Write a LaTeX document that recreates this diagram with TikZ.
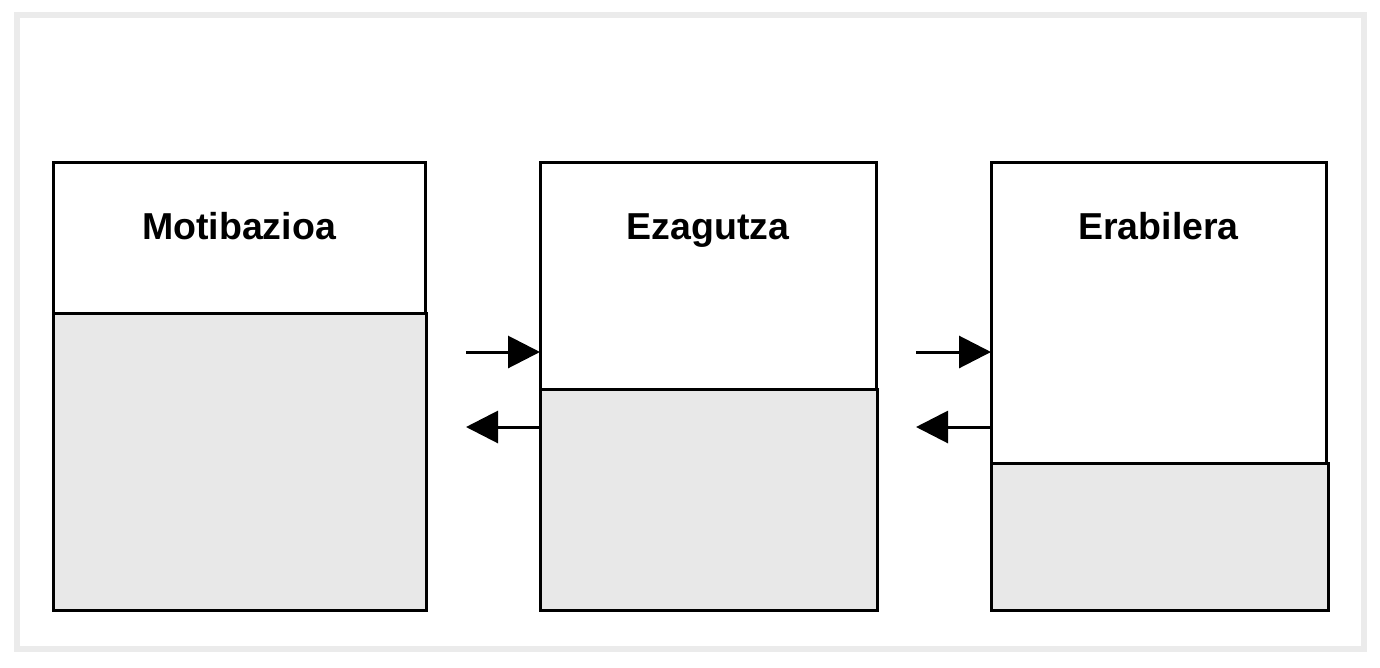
\documentclass[tikz,border=0pt]{standalone}
\usepackage{fontspec}
\setmainfont{Liberation Sans}
\usetikzlibrary{arrows.meta}
\definecolor{framegray}{HTML}{EBEBEB}
\definecolor{fillgray}{HTML}{E8E8E8}
\begin{document}
\begin{tikzpicture}[x=1pt,y=-1pt,
  box/.style={draw=black, line width=3pt, fill=white, rectangle, inner sep=0pt, outer sep=0pt, anchor=north west},
  graybox/.style={draw=black, line width=3pt, fill=fillgray, rectangle, inner sep=0pt, outer sep=0pt, anchor=south west},
  lbl/.style={font=\fontsize{37.5}{42}\selectfont\bfseries, anchor=base, inner sep=0pt},
  arr/.style={line width=3pt, -{Triangle[length=32pt,width=32pt]}}]
\useasboundingbox (0,0) rectangle (1380,667);
\draw[framegray, line width=6pt] (17,15) rectangle (1364,649);
% boxes
\node[box, minimum width=372pt, minimum height=448pt] (b1) at (53,162) {};
\node[graybox, minimum width=373pt, minimum height=297pt] (g1) at (b1.south west) {};
\node[box, minimum width=336pt, minimum height=448pt] (b2) at (540,162) {};
\node[graybox, minimum width=337pt, minimum height=221pt] (g2) at (b2.south west) {};
\node[box, minimum width=335pt, minimum height=448pt] (b3) at (991,162) {};
\node[graybox, minimum width=337pt, minimum height=147pt] (g3) at (b3.south west) {};
% labels
\node[lbl] (t1) at ([yshift=-77pt]b1.north) {Motibazioa};
\node[lbl] (t2) at ([yshift=-77pt]b2.north) {Ezagutza};
\node[lbl] (t3) at ([yshift=-77pt]b3.north) {Erabilera};
% arrows
\coordinate (r1) at (466,352);
\coordinate (l1) at (466,427);
\coordinate (r2) at (916,352);
\coordinate (l2) at (916,427);
\draw[arr] (r1) -- (b2.west |- r1);
\draw[arr] (b2.west |- l1) -- (l1);
\draw[arr] (r2) -- (b3.west |- r2);
\draw[arr] (b3.west |- l2) -- (l2);
\end{tikzpicture}
\end{document}
